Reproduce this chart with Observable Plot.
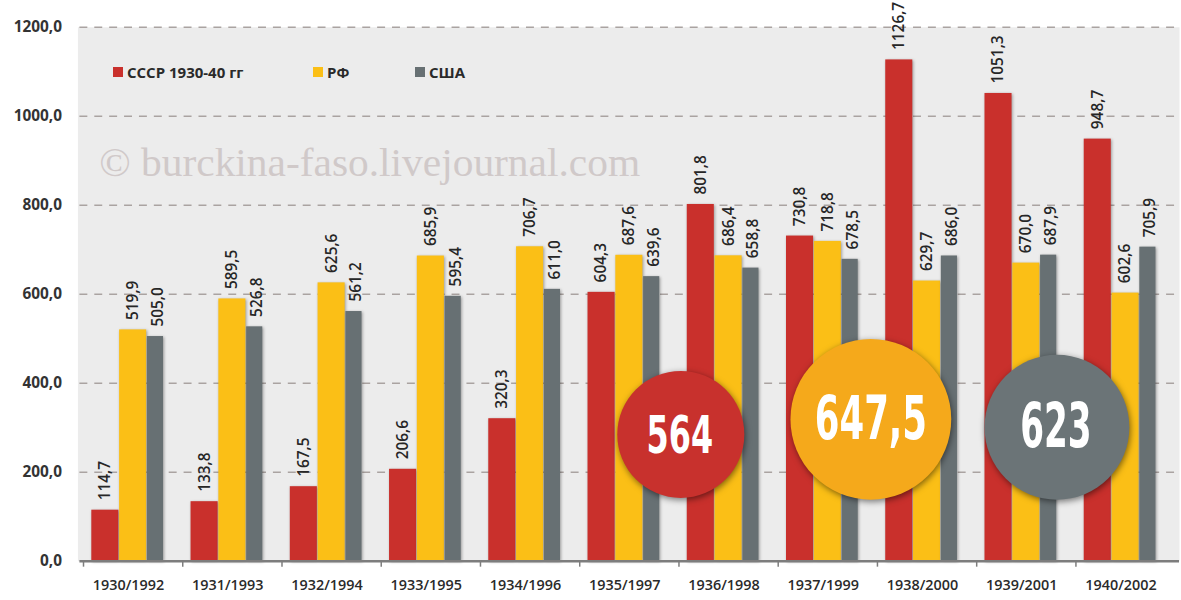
<!DOCTYPE html>
<html>
<head>
<meta charset="utf-8">
<script src="https://cdn.jsdelivr.net/npm/d3@7"></script>
<script src="https://cdn.jsdelivr.net/npm/@observablehq/plot@0.6"></script>
<style>
  html, body { margin: 0; padding: 0; background: #fff; overflow: hidden; }
  #wrap { position: relative; width: 1181px; height: 600px; overflow: hidden; font-family: "Open Sans", sans-serif; }
  #wrap svg { display: block; }
  #wrap svg g[aria-label="bar"] rect { filter: drop-shadow(1px 1px 1.5px rgba(0,0,0,0.35)); }
  #wrap svg g[aria-label="dot"] circle { filter: drop-shadow(1px 2px 3px rgba(0,0,0,0.5)); }
  .legend { position: absolute; top: 62px; left: 0; font: 700 15px "Open Sans", sans-serif; color: #2a2a2a; }
  .legend span.item { position: absolute; white-space: nowrap; display: flex; align-items: center; }
  .legend span.sw { display: inline-block; width: 10px; height: 10px; margin-right: 4px; }
</style>
</head>
<body>
<div id="wrap"></div>
<script>
// ---- data ----
const categories = ["1930/1992","1931/1993","1932/1994","1933/1995","1934/1996","1935/1997","1936/1998","1937/1999","1938/2000","1939/2001","1940/2002"];
const series = ["СССР 1930-40 гг", "РФ", "США"];
const ussr = [114.7, 133.8, 167.5, 206.6, 320.3, 604.3, 801.8, 730.8, 1126.7, 1051.3, 948.7];
const rf   = [519.9, 589.5, 625.6, 685.9, 706.7, 687.6, 686.4, 718.8, 629.7, 670.0, 602.6];
const usa  = [505.0, 526.8, 561.2, 595.4, 611.0, 639.6, 658.8, 678.5, 686.0, 687.9, 705.9];
const yTicks = [0, 200, 400, 600, 800, 1000, 1200];
const averages = [564, 647.5, 623];
const averageLabels = ["564", "647,5", "623"];
const colors = ["#c9302c", "#fbbf16", "#677073"];
const circleColors = ["#c8312d", "#f5a91b", "#6b7477"];

const rows = categories.flatMap((c, i) => [
  {category: c, series: series[0], value: ussr[i]},
  {category: c, series: series[1], value: rf[i]},
  {category: c, series: series[2], value: usa[i]}
]);
const bySeries = s => rows.filter(d => d.series === s);
const fmt = v => v.toFixed(1).replace(".", ",");

// ---- layout ----
const W = 1190, H = 600, mL = 80, mR = 2, mT = 27, mB = 35;
const step = (W - mL - mR) / categories.length;
const barW = 28;
const valueFont = {fontSize: 15.5, fontWeight: 600, fontFamily: "Open Sans", fill: "#262626"};

function valueText(s, dx) {
  return Plot.text(bySeries(s), {
    x: "category", y: "value", text: d => fmt(d.value),
    rotate: -90, textAnchor: "start", dy: -10, dx, ...valueFont
  });
}

const chart = Plot.plot({
  width: W, height: H,
  marginLeft: mL, marginRight: mR, marginTop: mT, marginBottom: mB,
  style: {background: "transparent", fontFamily: "Open Sans", overflow: "visible"},
  x: {domain: categories, padding: 0, axis: null, label: null},
  y: {domain: [0, 1200], axis: null, label: null},
  marks: [
    Plot.frame({fill: "#ececec", stroke: null, insetLeft: -2, insetTop: 0}),
    Plot.ruleY(yTicks.filter(d => d > 0), {stroke: "#aaa3a1", strokeWidth: 1.4, strokeDasharray: "8,7"}),
    Plot.barY(bySeries(series[0]), {x: "category", y: "value", fill: colors[0],
      insetLeft: 8, insetRight: step - 8 - barW}),
    Plot.barY(bySeries(series[1]), {x: "category", y: "value", fill: colors[1],
      insetLeft: 8 + barW, insetRight: step - 8 - 2 * barW}),
    Plot.barY(bySeries(series[2]), {x: "category", y: "value", fill: colors[2],
      insetLeft: 8 + 2 * barW, insetRight: step - 8 - 2 * barW - 17}),
    valueText(series[0], 22 - step / 2),
    valueText(series[1], 50 - step / 2),
    valueText(series[2], 75 - step / 2),
    Plot.ruleY([0], {stroke: "#7d7d7d", strokeWidth: 2.5}),
    Plot.axisY({ticks: yTicks, tickSize: 0, tickPadding: 18, tickFormat: fmt, label: null,
      fontSize: 15.5, fontWeight: 700, fontFamily: "Open Sans", color: "#333"}),
    Plot.axisX({ticks: categories, tickSize: 0, tickPadding: 19, dx: -5, label: null,
      fontSize: 14.5, fontWeight: 600, fontFamily: "Open Sans", color: "#2a2a2a"}),
    Plot.axisX({ticks: categories, tickSize: 6, tickFormat: () => "", dx: -step / 2, label: null,
      stroke: "#7d7d7d", strokeWidth: 1.5}),
    // average circles
    Plot.dot([averages[0]], {x: () => "1936/1998", y: () => 285, r: 64, fill: circleColors[0], dx: -48.5}),
    Plot.dot([averages[1]], {x: () => "1937/1999", y: () => 319, r: 81, fill: circleColors[1], dx: 43}),
    Plot.dot([averages[2]], {x: () => "1939/2001", y: () => 301, r: 73, fill: circleColors[2], dx: 30.5}),
    Plot.text([averages[0]], {x: () => "1936/1998", y: () => 285, text: () => averageLabels[0], dx: -49.5, dy: 2,
      fill: "#fff", fontSize: 52, fontWeight: 700, fontFamily: "DejaVu Sans Condensed"}),
    Plot.text([averages[1]], {x: () => "1937/1999", y: () => 319, text: () => averageLabels[1], dx: 43, dy: 0,
      fill: "#fff", fontSize: 61, fontWeight: 700, fontFamily: "DejaVu Sans Condensed"}),
    Plot.text([averages[2]], {x: () => "1939/2001", y: () => 301, text: () => averageLabels[2], dx: 29.5, dy: 0,
      fill: "#fff", fontSize: 62, fontWeight: 700, fontFamily: "DejaVu Sans Condensed"})
  ]
});

// squeeze the big average labels to the narrow width used in the original
const squeeze = {"564": 67, "647,5": 113, "623": 72};
d3.select(chart).selectAll("text").each(function () {
  const t = this.textContent;
  if (squeeze[t] !== undefined) {
    d3.select(this).attr("textLength", squeeze[t]).attr("lengthAdjust", "spacingAndGlyphs");
  }
});

// watermark
d3.select(chart).insert("text", "g[aria-label='bar']")
  .attr("x", 100).attr("y", 177)
  .attr("text-anchor", "start")
  .attr("fill", "#d0c9c9")
  .attr("font-family", "Liberation Serif, serif")
  .attr("font-size", 41)
  .attr("textLength", 545).attr("lengthAdjust", "spacingAndGlyphs")
  .text("© burckina-faso.livejournal.com");

const wrap = document.getElementById("wrap");
wrap.appendChild(chart);

// legend (inside the plot area, top-left)
const legend = document.createElement("div");
legend.className = "legend";
const legendLeft = [113, 313, 415];
series.forEach((s, i) => {
  const it = document.createElement("span");
  it.className = "item";
  it.style.left = legendLeft[i] + "px";
  it.innerHTML = `<span class="sw" style="background:${colors[i]}"></span>${s}`;
  legend.appendChild(it);
});
wrap.appendChild(legend);
</script>
</body>
</html>
